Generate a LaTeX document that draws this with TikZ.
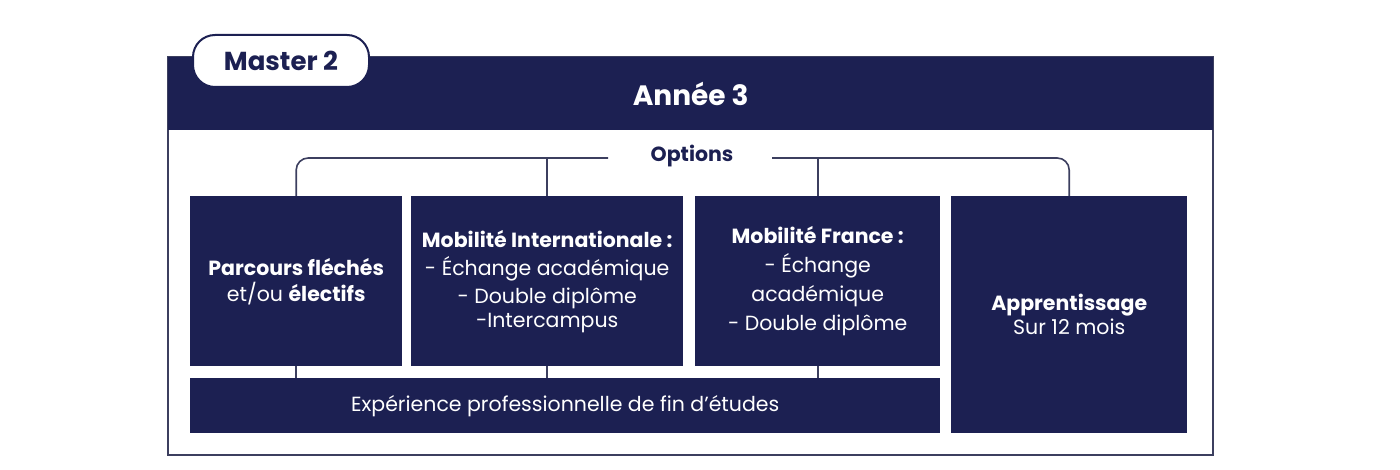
\documentclass[tikz,border=0pt]{standalone}
\usepackage{fontspec}
\setmainfont{Poppins}
\usepackage{tikz}
\definecolor{navy}{RGB}{28,32,82}
\definecolor{edge}{RGB}{60,63,95}

\begin{document}
\begin{tikzpicture}[x=1pt,y=-1pt]
            \tikzstyle{box}=[fill=navy,text=white,inner sep=0pt,anchor=north west,align=center,font=\fontsize{20.5}{28}\selectfont]
            \tikzstyle{link}=[draw=edge,line width=1.6pt]
            \useasboundingbox (0,0) rectangle (1400,470);
            \draw[edge,line width=2pt] (168,57) rectangle (1213,455);
            \node[box,minimum width=1045pt,minimum height=73pt,font=\fontsize{28}{32}\selectfont\bfseries] (annee) at (168,57) {Année 3};
            \node[fill=white,draw=navy,line width=2pt,rounded corners=22pt,minimum width=176pt,minimum height=52pt,text=navy,font=\fontsize{26}{30}\selectfont\bfseries] (master) at (281,61) {Master 2};
            \node[text=navy,font=\fontsize{20.5}{24}\selectfont\bfseries] (options) at (692,156) {Options};
            \coordinate (optl) at (608,158);
            \coordinate (optr) at (772,158);
            \node[box,minimum width=212pt,minimum height=170pt] (parcours) at (190,196) {\textbf{Parcours fléchés}\\[-2pt]et/ou \textbf{électifs}};
            \node[box,minimum width=272pt,minimum height=170pt] (mobint) at (411,196) {\textbf{Mobilité Internationale :}\\- Échange académique\\- Double diplôme\\[-4pt]-Intercampus};
            \node[box,minimum width=245pt,minimum height=170pt,font=\fontsize{20.5}{29}\selectfont] (mobfr) at (695,196) {\textbf{Mobilité France :}\\- Échange\\académique\\- Double diplôme};
            \node[box,minimum width=236pt,minimum height=237pt,font=\fontsize{20.5}{24}\selectfont] (appr) at (951,196) {\textbf{Apprentissage}\\Sur 12 mois};
            \node[box,minimum width=750pt,minimum height=55pt] (exp) at (190,378) {Expérience professionnelle de fin d’études};
            % options bracket
            \draw[link,rounded corners=12pt] (parcours.north) |- (optl);
            \draw[link,rounded corners=12pt] (optr) -| (appr.north);
            \draw[link] (mobint.north) -- (mobint.north |- optl);
            \draw[link] (mobfr.north) -- (mobfr.north |- optr);
            % links to the bottom bar
            \draw[link] (parcours.south) -- (parcours.south |- exp.north);
            \draw[link] (mobint.south) -- (mobint.south |- exp.north);
            \draw[link] (mobfr.south) -- (mobfr.south |- exp.north);
\end{tikzpicture}
\end{document}
